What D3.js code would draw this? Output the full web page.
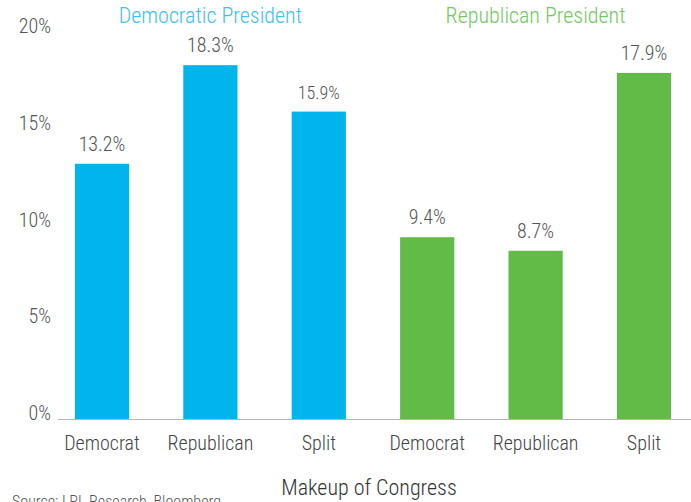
<!DOCTYPE html>
<html><head><meta charset="utf-8">
<script src="https://cdn.jsdelivr.net/npm/d3@7"></script>
<style>
body{margin:0;background:#fff;}
text{font-family:"Roboto Condensed","Liberation Sans Narrow","Arial Narrow",Roboto,sans-serif;font-weight:300;}
</style></head>
<body><svg id="c" width="691" height="502"></svg>
<script>
const categories = ["Democrat","Republican","Split","Democrat","Republican","Split"];
const groups = ["Democratic President","Democratic President","Democratic President","Republican President","Republican President","Republican President"];
const values = [13.2,18.3,15.9,9.4,8.7,17.9];
const valueLabels = ["13.2%","18.3%","15.9%","9.4%","8.7%","17.9%"];
const yTicks = [0,5,10,15,20];
const groupTitles = ["Democratic President","Republican President"];
const xTitle = "Makeup of Congress";
const source = "Source: LPL Research, Bloomberg";

const barColor = {"Democratic President":"#00b5ec","Republican President":"#62bb46"};
const titleColor = {"Democratic President":"#3fc0f0","Republican President":"#72c863"};

const svg = d3.select("#c");
const baseY = 419, topY = 32.3;
const y = d3.scaleLinear().domain([0,20]).range([baseY, topY]);
const idx = d3.range(values.length);
const x = d3.scaleBand().domain(idx).range([47.8, 698.2]).paddingInner(0.5).paddingOuter(0.25);

svg.append("line").attr("x1",58).attr("x2",691).attr("y1",baseY+0.5).attr("y2",baseY+0.5)
  .attr("stroke","#b5b5b5").attr("stroke-width",1);

svg.selectAll(".yt").data(yTicks).join("text")
  .attr("x",51).attr("y",d=>y(d)+1)
  .attr("text-anchor","end").attr("font-size",20).attr("fill","#555")
  .text(d=>d+"%");

svg.selectAll(".bar").data(idx).join("rect")
  .attr("x",i=>x(i)).attr("width",x.bandwidth())
  .attr("y",i=>y(values[i])).attr("height",i=>baseY-y(values[i]))
  .attr("fill",i=>barColor[groups[i]]);

svg.selectAll(".vl").data(idx).join("text")
  .attr("x",i=>x(i)+x.bandwidth()/2).attr("y",i=>y(values[i])-13)
  .attr("text-anchor","middle").attr("font-size",i=>i===2?18:20).attr("fill","#555")
  .text(i=>valueLabels[i]);

svg.selectAll(".cl").data(idx).join("text")
  .attr("x",i=>x(i)+x.bandwidth()/2).attr("y",450)
  .attr("text-anchor","middle").attr("font-size",20).attr("fill","#444")
  .text(i=>categories[i]);

groupTitles.forEach(g=>{
  const ii = idx.filter(i=>groups[i]===g);
  const cx = (x(ii[0]) + x(ii[ii.length-1]) + x.bandwidth())/2;
  svg.append("text").attr("x",cx).attr("y",23).attr("text-anchor","middle")
    .attr("font-size",22).attr("fill",titleColor[g]).text(g);
});

svg.append("text").attr("x",369).attr("y",495).attr("text-anchor","middle")
  .attr("font-size",22).attr("fill","#333").text(xTitle);
svg.append("text").attr("x",12).attr("y",507).attr("font-size",16).attr("fill","#555").text(source);
</script></body></html>
